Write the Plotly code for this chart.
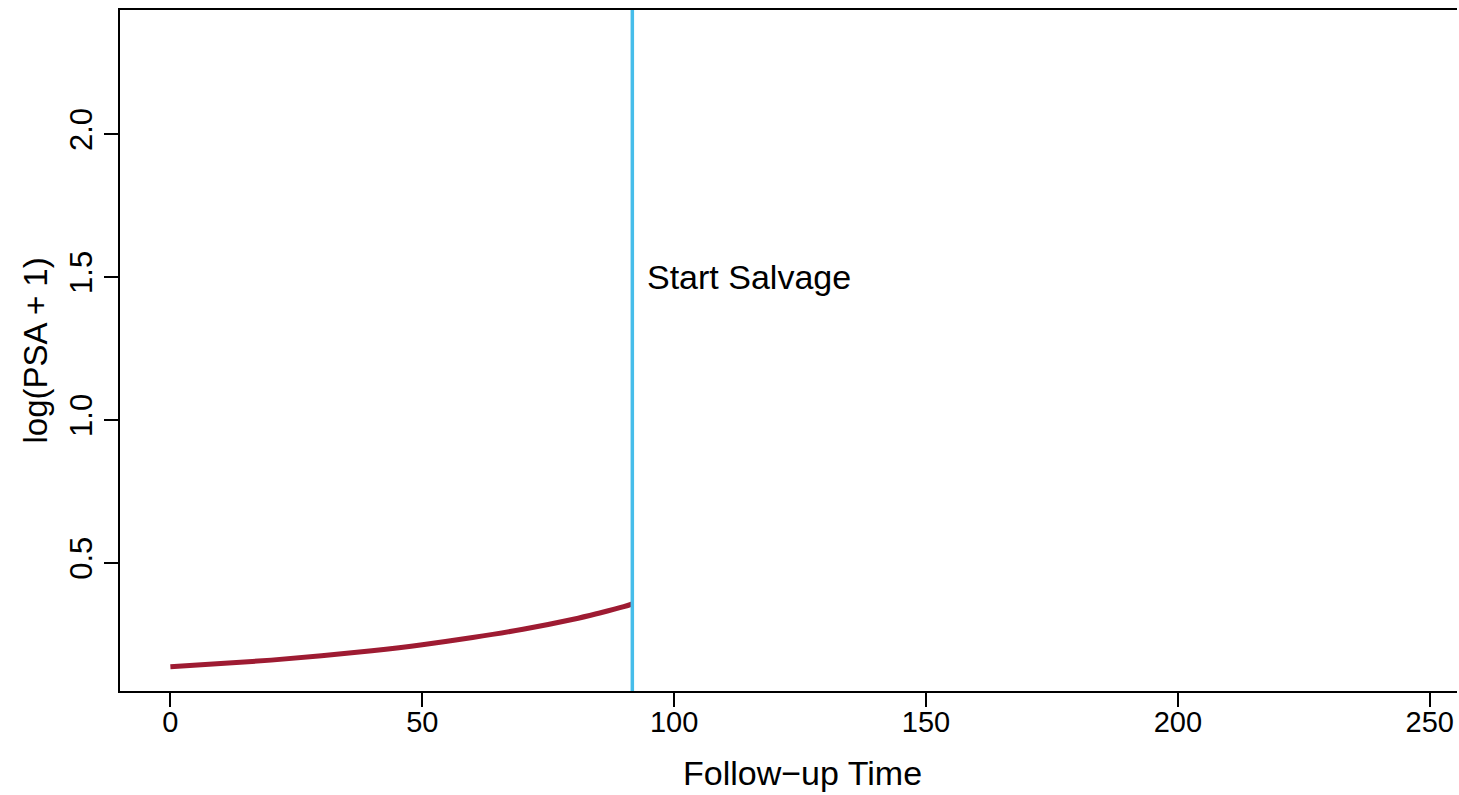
import plotly.graph_objects as go

# Data
follow_up_time = [0, 10, 20, 30, 40, 50, 60, 70, 80, 85, 90, 91.7]
log_psa = [0.137, 0.148, 0.160, 0.175, 0.193, 0.214, 0.239, 0.268, 0.303, 0.324, 0.347, 0.357]
salvage_time = 91.7
salvage_label = "Start Salvage"
salvage_label_y = 1.5
x_ticks = [0, 50, 100, 150, 200, 250]
y_ticks = [0.5, 1.0, 1.5, 2.0]
x_range = [-10.0, 255.4]
y_range = [0.052, 2.434]

FONT = "Liberation Sans, Arial, Helvetica, sans-serif"

fig = go.Figure()
fig.add_trace(go.Scatter(
    x=follow_up_time, y=log_psa, mode="lines",
    line=dict(color="#9E1B32", width=5, shape="spline", smoothing=1.0),
    showlegend=False, hoverinfo="skip",
))

fig.add_shape(type="line", xref="x", yref="paper",
              x0=salvage_time, x1=salvage_time, y0=0, y1=1,
              line=dict(color="#46BDEA", width=3.5), layer="above")

fig.add_annotation(x=salvage_time, y=salvage_label_y, xref="x", yref="y",
                   text=salvage_label, showarrow=False, xanchor="left",
                   yanchor="middle", xshift=13,
                   font=dict(family=FONT, size=34, color="black"))

fig.add_annotation(xref="paper", yref="paper", x=0.5108, y=0,
                   text="Follow\u2212up Time", showarrow=False,
                   xanchor="center", yanchor="middle", yshift=-82,
                   font=dict(family=FONT, size=34, color="black"))
fig.add_annotation(xref="paper", yref="paper", x=0, y=0.5,
                   text="log(PSA + 1)", showarrow=False, textangle=-90,
                   xanchor="center", yanchor="middle", xshift=-85,
                   font=dict(family=FONT, size=33, color="black"))

fig.update_xaxes(range=x_range, tickvals=x_ticks, ticktext=[str(v) for v in x_ticks],
                 ticks="outside", ticklen=14, tickwidth=1.5, tickcolor="black",
                 showline=True, linecolor="black", linewidth=2, mirror=True,
                 showgrid=False, zeroline=False, ticklabelstandoff=-10,
                 tickfont=dict(family=FONT, size=29, color="black"))
fig.update_yaxes(range=y_range, tickvals=y_ticks, ticktext=[f"{v:.1f}" for v in y_ticks],
                 ticks="outside", ticklen=14, tickwidth=1.5, tickcolor="black",
                 showline=True, linecolor="black", linewidth=2, mirror=False,
                 showgrid=False, zeroline=False, tickangle=-90,
                 tickfont=dict(family=FONT, size=31, color="black"))

fig.update_layout(width=1459, height=795,
                  margin=dict(l=120, r=2, t=10, b=104),
                  plot_bgcolor="white", paper_bgcolor="white",
                  font=dict(family=FONT))

fig.write_html("out.html")
